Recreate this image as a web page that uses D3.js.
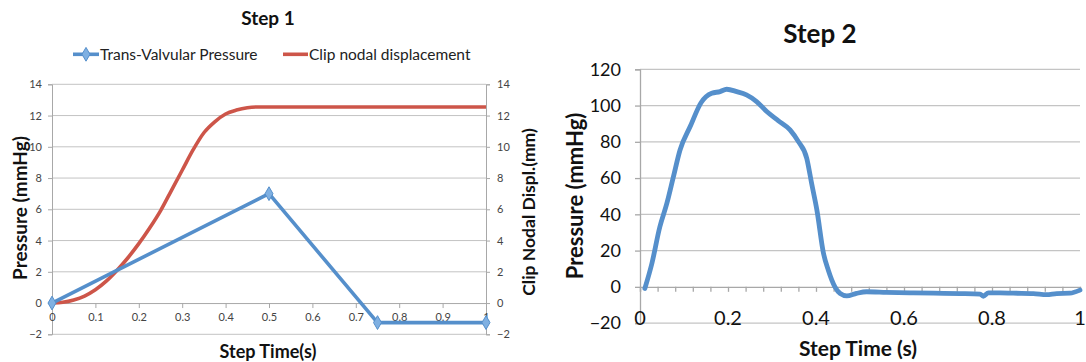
<!DOCTYPE html>
<html>
<head>
<meta charset="utf-8">
<script src="https://cdn.jsdelivr.net/npm/d3@7/dist/d3.min.js"></script>
<style>
  html, body { margin: 0; padding: 0; background: #fff; }
  svg { display: block; font-family: Lato, "Open Sans", sans-serif; }
</style>
</head>
<body>
<svg id="chart" width="1086" height="362"></svg>
<script>
// ---- Step 1 data ----
const step1Time = [0, 0.5, 0.75, 1];
const step1Pressure = [0, 7, -1.25, -1.25];

const dispTime = [0, 0.025, 0.05, 0.075, 0.1, 0.125, 0.15, 0.175, 0.2, 0.225, 0.25,
  0.275, 0.3, 0.325, 0.35, 0.375, 0.4, 0.425, 0.45, 0.475, 0.5, 0.75, 1];
const dispValues = [0, 0.05, 0.2, 0.45, 0.85, 1.4, 2.1, 2.9, 3.8, 4.8, 5.9,
  7.2, 8.5, 9.8, 10.9, 11.6, 12.1, 12.35, 12.5, 12.55, 12.55, 12.55, 12.55];

const step1XTicks = [0, 0.1, 0.2, 0.3, 0.4, 0.5, 0.6, 0.7, 0.8, 0.9, 1];
const step1YTicks = [-2, 0, 2, 4, 6, 8, 10, 12, 14];
const step1Legend = ["Trans-Valvular Pressure", "Clip nodal displacement"];

// ---- Step 2 data ----
const step2Time = [0.011, 0.027, 0.045, 0.061, 0.076, 0.091, 0.114, 0.139, 0.163, 0.182,
  0.197, 0.22, 0.242, 0.265, 0.288, 0.314, 0.341, 0.36, 0.379, 0.39, 0.402, 0.417,
  0.428, 0.443, 0.455, 0.47, 0.492, 0.515, 0.56, 0.614, 0.667, 0.727, 0.773, 0.78,
  0.792, 0.818, 0.848, 0.894, 0.924, 0.947, 0.977, 1.0];
const step2Pressure = [-0.9, 12.9, 33, 46, 60.8, 75.5, 88.4, 101.7, 106.8, 107.7,
  109, 107.7, 105.9, 102.2, 96.7, 91.7, 86.6, 80.1, 70.9, 57.1, 42.4, 18.5,
  9.2, 0, -3.7, -5, -3.6, -2.7, -3, -3.3, -3.5, -3.7, -4, -5.2,
  -3.3, -3.3, -3.5, -3.7, -4.3, -3.7, -3.5, -1.8];

const step2XTicks = [0, 0.2, 0.4, 0.6, 0.8, 1];
const step2YTicks = [-20, 0, 20, 40, 60, 80, 100, 120];

// ---- styles ----
const BLUE = "#558fcb";
const BLUE_MARK = "#7fb0e2";
const RED = "#cd5549";
const GRID = "#c4c4c4";
const AXIS = "#a8a8a8";

const svg = d3.select("#chart");

// ================= Step 1 =================
{
  const x = d3.scaleLinear().domain([0, 1]).range([52, 486]);
  const y = d3.scaleLinear().domain([-2, 14]).range([334.3, 84.3]);
  const y2 = d3.scaleLinear().domain([-2, 14]).range([334.3, 84.3]);
  const g = svg.append("g");

  // horizontal gridlines
  g.append("g").selectAll("line").data(step1YTicks.filter(d => d !== 0)).join("line")
    .attr("x1", x(0)).attr("x2", x(1))
    .attr("y1", d => y(d)).attr("y2", d => y(d))
    .attr("stroke", GRID).attr("stroke-width", 1);

  // left axis
  const leftAxis = g.append("g").attr("transform", `translate(${x(0)},0)`)
    .call(d3.axisLeft(y).tickValues(step1YTicks).tickSize(4).tickPadding(6).tickFormat(d3.format("d")));
  // right axis
  const rightAxis = g.append("g").attr("transform", `translate(${x(1)},0)`)
    .call(d3.axisRight(y2).tickValues(step1YTicks).tickSize(4).tickPadding(7).tickFormat(d3.format("d")));
  // x axis crossing at zero
  const bottomAxis = g.append("g").attr("transform", `translate(0,${y(0)})`)
    .call(d3.axisBottom(x).tickValues(step1XTicks).tickSize(5).tickPadding(5).tickFormat(d => d3.format("")(d)));

  [leftAxis, rightAxis, bottomAxis].forEach(a => {
    a.select(".domain").attr("stroke", AXIS);
    a.selectAll(".tick line").attr("stroke", AXIS);
    a.selectAll("text").attr("fill", "#444").style("font-size", "11px")
      .style("font-family", "Lato, sans-serif");
  });

  // displacement curve (right axis)
  g.append("path")
    .datum(dispTime.map((t, i) => [t, dispValues[i]]))
    .attr("fill", "none").attr("stroke", RED).attr("stroke-width", 3.6)
    .attr("stroke-linejoin", "round")
    .attr("d", d3.line().x(d => x(d[0])).y(d => y2(d[1])).curve(d3.curveMonotoneX));

  // pressure line (left axis)
  const pData = step1Time.map((t, i) => [t, step1Pressure[i]]);
  g.append("path").datum(pData)
    .attr("fill", "none").attr("stroke", BLUE).attr("stroke-width", 3.6)
    .attr("stroke-linejoin", "round")
    .attr("d", d3.line().x(d => x(d[0])).y(d => y(d[1])));
  const diamond = d3.symbol().type(d3.symbolDiamond).size(55);
  g.append("g").selectAll("path").data(pData).join("path")
    .attr("transform", d => `translate(${x(d[0])},${y(d[1])})`)
    .attr("d", diamond)
    .attr("fill", BLUE_MARK).attr("stroke", BLUE).attr("stroke-width", 1);

  // title
  g.append("text").attr("x", 268).attr("y", 25).attr("text-anchor", "middle")
    .style("font-weight", "bold").style("font-size", "19px").attr("fill", "#111")
    .text("Step 1");

  // legend
  const lg = g.append("g");
  lg.append("line").attr("x1", 73).attr("x2", 99).attr("y1", 54.3).attr("y2", 54.3)
    .attr("stroke", BLUE).attr("stroke-width", 3.6);
  lg.append("path").attr("transform", "translate(86,54.3)").attr("d", diamond)
    .attr("fill", BLUE_MARK).attr("stroke", BLUE).attr("stroke-width", 1);
  lg.append("text").attr("x", 100).attr("y", 59.5)
    .style("font-size", "15.5px").attr("fill", "#222").text(step1Legend[0]);
  lg.append("line").attr("x1", 283).attr("x2", 308).attr("y1", 54.3).attr("y2", 54.3)
    .attr("stroke", RED).attr("stroke-width", 3.6);
  lg.append("text").attr("x", 309).attr("y", 59.5)
    .style("font-size", "15.5px").attr("fill", "#222").text(step1Legend[1]);

  // axis titles
  g.append("text").attr("x", 268).attr("y", 358).attr("text-anchor", "middle")
    .style("font-weight", "bold").style("font-size", "18px").attr("fill", "#111")
    .text("Step Time(s)");
  g.append("text").attr("transform", "translate(27,208) rotate(-90)").attr("text-anchor", "middle")
    .style("font-weight", "bold").style("font-size", "19px").attr("fill", "#111")
    .text("Pressure (mmHg)");
  g.append("text").attr("transform", "translate(535,212) rotate(-90)").attr("text-anchor", "middle")
    .style("font-weight", "bold").style("font-size", "17.5px").attr("fill", "#111")
    .text("Clip Nodal Displ.(mm)");
}

// ================= Step 2 =================
{
  const x = d3.scaleLinear().domain([0, 1]).range([640, 1080]);
  const y = d3.scaleLinear().domain([-20, 120]).range([323.1, 69.3]);
  const g = svg.append("g");

  g.append("g").selectAll("line").data(step2YTicks.filter(d => d !== 0)).join("line")
    .attr("x1", x(0)).attr("x2", x(1))
    .attr("y1", d => y(d)).attr("y2", d => y(d))
    .attr("stroke", GRID).attr("stroke-width", 1.3);

  const leftAxis = g.append("g").attr("transform", `translate(${x(0)},0)`)
    .call(d3.axisLeft(y).tickValues(step2YTicks).tickSize(5).tickPadding(14).tickFormat(d3.format("d")));
  const bottomAxis = g.append("g").attr("transform", `translate(0,${y(0)})`)
    .call(d3.axisBottom(x).tickValues(d3.range(0, 26).map(i => i * 0.04)).tickSize(5).tickFormat(""));

  [leftAxis, bottomAxis].forEach(a => {
    a.select(".domain").attr("stroke", AXIS).attr("stroke-width", 1.3);
    a.selectAll(".tick line").attr("stroke", AXIS).attr("stroke-width", 1.3);
  });
  leftAxis.selectAll("text").attr("fill", "#111").style("font-size", "18px")
    .style("font-family", "Lato, sans-serif");

  // x labels sit low, their baseline on the -20 gridline
  g.append("g").selectAll("text").data(step2XTicks).join("text")
    .attr("x", d => x(d)).attr("y", y(-20) + 2)
    .attr("text-anchor", "middle").attr("fill", "#111")
    .style("font-size", "20px")
    .text(d => d3.format("")(d));

  g.append("path")
    .datum(step2Time.map((t, i) => [t, step2Pressure[i]]))
    .attr("fill", "none").attr("stroke", BLUE).attr("stroke-width", 4.8)
    .attr("stroke-linejoin", "round").attr("stroke-linecap", "round")
    .attr("d", d3.line().x(d => x(d[0])).y(d => y(d[1])).curve(d3.curveMonotoneX));

  g.append("text").attr("x", 820).attr("y", 43).attr("text-anchor", "middle")
    .style("font-weight", "bold").style("font-size", "26px").attr("fill", "#111")
    .text("Step 2");
  g.append("text").attr("x", 858).attr("y", 356).attr("text-anchor", "middle")
    .style("font-weight", "bold").style("font-size", "21px").attr("fill", "#111")
    .text("Step Time (s)");
  g.append("text").attr("transform", "translate(583,196) rotate(-90)").attr("text-anchor", "middle")
    .style("font-weight", "bold").style("font-size", "22px").attr("fill", "#111")
    .text("Pressure (mmHg)");
}
</script>
</body>
</html>
